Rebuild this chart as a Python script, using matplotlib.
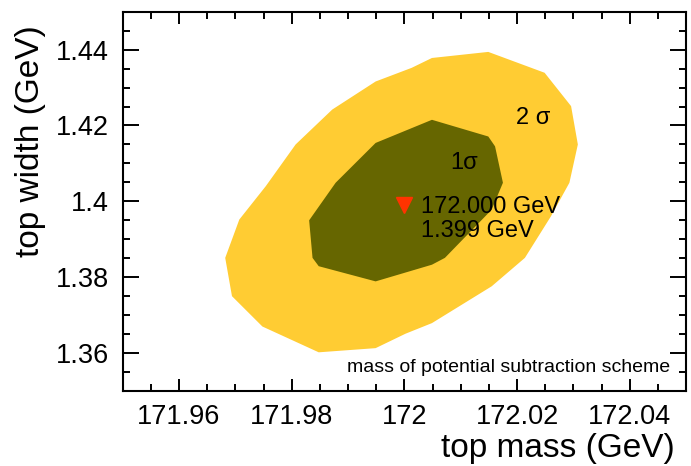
import matplotlib.pyplot as plt
from matplotlib.ticker import MultipleLocator

plt.rcParams["font.family"] = ["Liberation Sans", "DejaVu Sans"]

# 2 sigma contour (top mass, top width)
mass_2s = [171.9682, 171.9707, 171.9754, 171.9807, 171.9872, 171.9949, 172.0013,
           172.0049, 172.0149, 172.0249, 172.0296, 172.0308, 172.0293, 172.0260,
           172.0214, 172.0155, 172.0049, 172.0002, 171.9949, 171.9848, 171.9748,
           171.9694]
width_2s = [1.3851, 1.3952, 1.4040, 1.4150, 1.4242, 1.4316, 1.4352,
            1.4378, 1.4394, 1.4339, 1.4251, 1.4150, 1.4049, 1.3960,
            1.3851, 1.3776, 1.3679, 1.3651, 1.3613, 1.3602, 1.3670,
            1.3750]

# 1 sigma contour
mass_1s = [171.9831, 171.9878, 171.9949, 172.0049, 172.0149, 172.0161, 172.0175,
           172.0155, 172.0072, 172.0049, 171.9949, 171.9848, 171.9837]
width_1s = [1.3950, 1.4049, 1.4154, 1.4215, 1.4171, 1.4145, 1.4049,
            1.3978, 1.3851, 1.3833, 1.3789, 1.3829, 1.3851]

best_mass = 172.000
best_width = 1.399

fig = plt.figure(figsize=(6.91, 4.66), dpi=100)
ax = fig.add_axes([122.7 / 691, 75 / 466, 563.3 / 691, 379.3 / 466])

ax.fill(mass_2s, width_2s, color="#ffcc33", lw=0)
ax.fill(mass_1s, width_1s, color="#666600", lw=0)
ax.plot([best_mass], [best_width], marker="v", color="#ff3300", ms=12, ls="none")

ax.text(172.0030, 1.3985, f"{best_mass:.3f} GeV", fontsize=17, va="center", ha="left")
ax.text(172.0030, 1.3921, f"{best_width:.3f} GeV", fontsize=17, va="center", ha="left")
ax.text(172.0228, 1.4221, "2 σ", fontsize=17, ha="center", va="center")
ax.text(172.0106, 1.4102, "1σ", fontsize=17, ha="center", va="center")
ax.text(0.9716, 0.063, "mass of potential subtraction scheme", fontsize=14,
        ha="right", va="center", transform=ax.transAxes)

ax.set_xlim(171.95, 172.05)
ax.set_ylim(1.35, 1.45)
ax.xaxis.set_minor_locator(MultipleLocator(0.005))
ax.yaxis.set_minor_locator(MultipleLocator(0.005))
ax.set_xticks([171.96, 171.98, 172.0, 172.02, 172.04])
ax.set_xticklabels(["171.96", "171.98", "172", "172.02", "172.04"])
ax.set_yticks([1.36, 1.38, 1.40, 1.42, 1.44])
ax.set_yticklabels(["1.36", "1.38", "1.4", "1.42", "1.44"])

ax.tick_params(which="both", direction="in", top=True, right=True, width=1.4,
               labelsize=19.5)
ax.tick_params(axis="x", which="major", length=8.4, pad=9.5)
ax.tick_params(axis="x", which="minor", length=4.8)
ax.tick_params(axis="y", which="major", length=11.3, pad=10)
ax.tick_params(axis="y", which="minor", length=5.3)
for s in ax.spines.values():
    s.set_linewidth(1.5)

fig.text(675 / 691, 1 - 449 / 466, "top mass (GeV)", fontsize=24, ha="right", va="center")
fig.text(31 / 691, 1 - 25 / 466, "top width (GeV)", fontsize=24, rotation=90,
         ha="center", va="top")

fig.savefig("out.png", dpi=100)
